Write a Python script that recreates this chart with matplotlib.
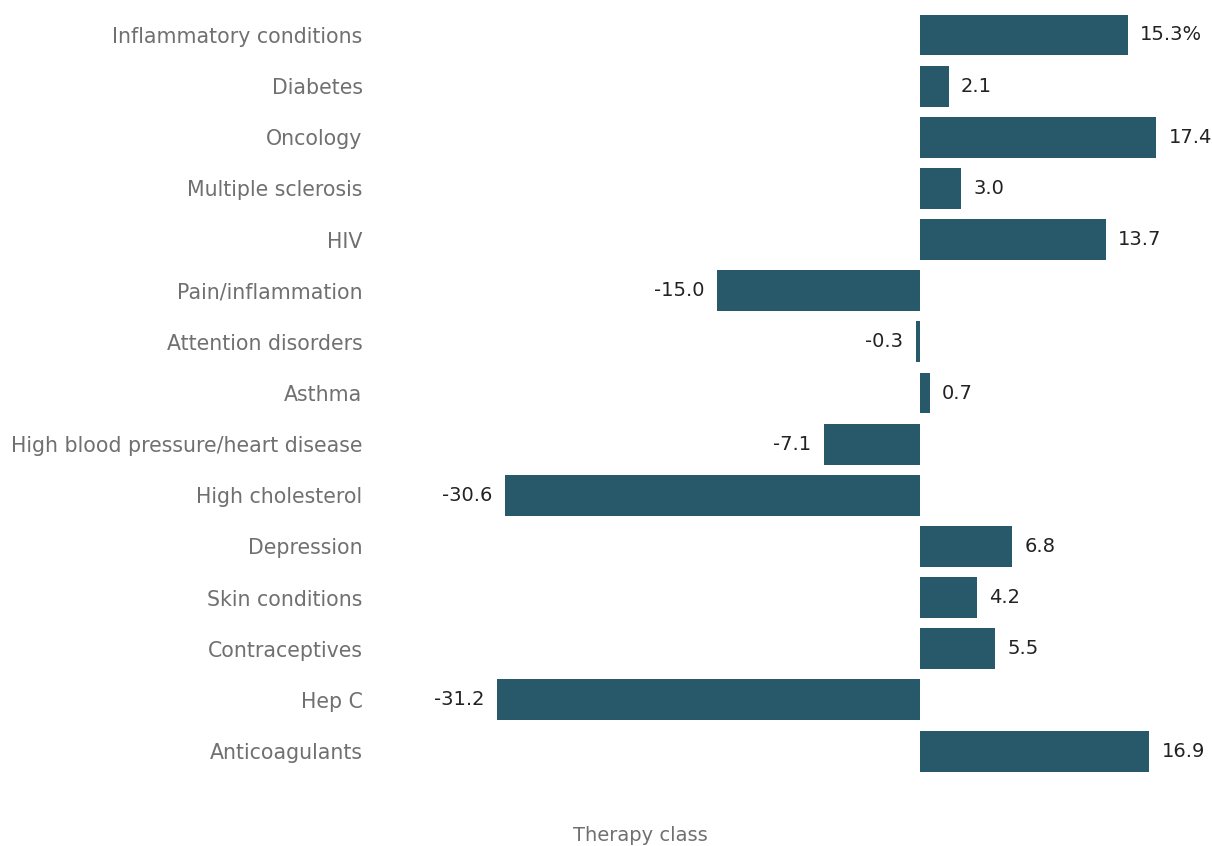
import matplotlib.pyplot as plt

categories = ["Inflammatory conditions", "Diabetes", "Oncology", "Multiple sclerosis", "HIV",
              "Pain/inflammation", "Attention disorders", "Asthma",
              "High blood pressure/heart disease", "High cholesterol", "Depression",
              "Skin conditions", "Contraceptives", "Hep C", "Anticoagulants"]
values = [15.3, 2.1, 17.4, 3.0, 13.7, -15.0, -0.3, 0.7, -7.1, -30.6, 6.8, 4.2, 5.5, -31.2, 16.9]
value_labels = ["15.3%", "2.1", "17.4", "3.0", "13.7", "-15.0", "-0.3", "0.7", "-7.1", "-30.6",
                "6.8", "4.2", "5.5", "-31.2", "16.9"]

bar_color = "#27596b"
label_color = "#707070"

plt.rcParams['font.family'] = ['DejaVu Sans']

fig = plt.figure(figsize=(12.12, 8.46), dpi=100)
ax = fig.add_axes([400 / 1212, 0.082, 812 / 1212, 0.9069])

y_pos = list(range(len(categories)))
ax.barh(y_pos, values, height=0.8, color=bar_color)
ax.set_xlim(-38.35, 21.53)
ax.set_ylim(len(categories) - 0.5, -0.5)
ax.set_yticks(y_pos)
ax.set_yticklabels(categories, fontsize=14.8, color=label_color, va='center_baseline')
ax.tick_params(axis='y', length=0, pad=27)
ax.set_xticks([])
for spine in ax.spines.values():
    spine.set_visible(False)

for y, v, lab in zip(y_pos, values, value_labels):
    if v >= 0:
        ax.annotate(lab, (v, y), xytext=(9, 0), textcoords='offset points',
                    ha='left', va='center', fontsize=14, color="#222222")
    else:
        ax.annotate(lab, (v, y), xytext=(-9, 0), textcoords='offset points',
                    ha='right', va='center', fontsize=14, color="#222222")

fig.text(640 / 1212, 1 - 835 / 846, "Therapy class", ha='center', va='center',
         fontsize=14, color=label_color)

plt.savefig("out.png", dpi=100)
